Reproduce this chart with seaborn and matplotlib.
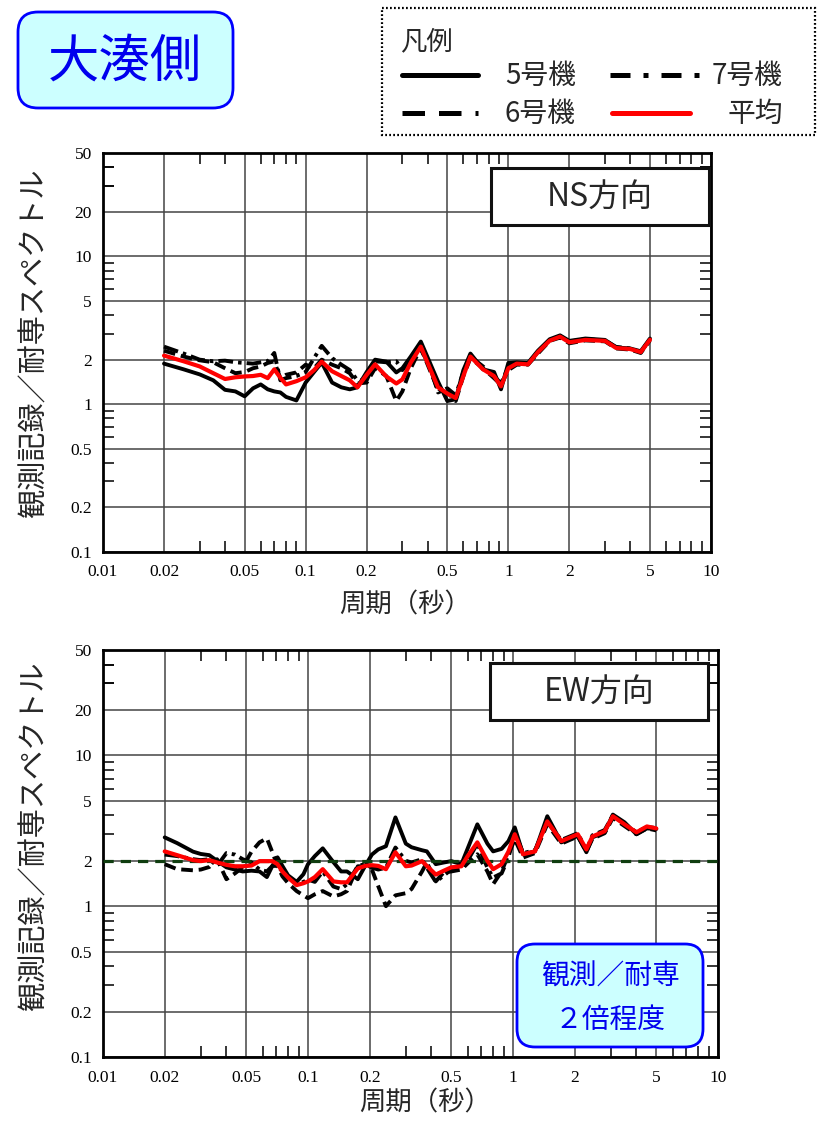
import matplotlib
matplotlib.use("Agg")
import matplotlib.pyplot as plt
import numpy as np
import pandas as pd
import seaborn as sns
from matplotlib.patches import FancyBboxPatch, Rectangle
from matplotlib.lines import Line2D
from matplotlib.ticker import FixedLocator, NullFormatter

sns.set_theme(style="white")
plt.rcParams['font.family'] = ['Noto Sans CJK JP', 'DejaVu Sans']

# ---------------- data ----------------
units = ['5号機', '6号機', '7号機']
avg_name = '平均'

x_ticks = [0.01, 0.02, 0.05, 0.1, 0.2, 0.5, 1, 2, 5, 10]
x_tick_labels = ['0.01', '0.02', '0.05', '0.1', '0.2', '0.5', '1', '2', '5', '10']
y_ticks = [0.1, 0.2, 0.5, 1, 2, 5, 10, 20, 50]
y_tick_labels = ['0.1', '0.2', '0.5', '1', '2', '5', '10', '20', '50']

# NS direction
ns_period = [0.02, 0.025, 0.03, 0.035, 0.04, 0.045, 0.05, 0.055, 0.06, 0.065,
             0.07, 0.075, 0.08, 0.09, 0.1, 0.11, 0.12, 0.135, 0.15, 0.165,
             0.18, 0.2, 0.22, 0.25, 0.28, 0.3, 0.33, 0.37, 0.41, 0.45,
             0.5, 0.55, 0.6, 0.65, 0.75, 0.85, 0.92, 1.0, 1.1, 1.25,
             1.4, 1.6, 1.8, 2.0, 2.4, 3.0, 3.4, 4.0, 4.5, 5.0]
ns_u5 = [1.88, 1.72, 1.59, 1.45, 1.25, 1.22, 1.13, 1.28, 1.36, 1.26,
         1.22, 1.20, 1.12, 1.06, 1.40, 1.65, 1.91, 1.40, 1.30, 1.26,
         1.30, 1.65, 2.00, 1.94, 1.64, 1.75, 2.10, 2.65, 1.91, 1.42,
         1.05, 1.08, 1.70, 2.20, 1.72, 1.65, 1.26, 1.90, 1.92, 1.90,
         2.30, 2.75, 2.92, 2.68, 2.78, 2.72, 2.42, 2.38, 2.28, 2.78]
ns_u6 = [2.30, 2.10, 1.98, 1.92, 1.75, 1.62, 1.65, 1.75, 1.80, 1.90,
         1.95, 1.50, 1.58, 1.64, 1.85, 1.75, 2.00, 1.85, 1.75, 1.62,
         1.38, 1.40, 1.75, 1.55, 1.05, 1.22, 1.75, 2.40, 1.70, 1.25,
         1.20, 1.05, 1.55, 2.05, 1.75, 1.50, 1.35, 1.70, 1.85, 1.85,
         2.20, 2.68, 2.82, 2.58, 2.70, 2.66, 2.38, 2.34, 2.22, 2.70]
ns_u7 = [2.45, 2.20, 2.00, 1.95, 1.97, 1.92, 1.90, 1.88, 1.92, 1.95,
         2.22, 1.45, 1.50, 1.55, 1.65, 2.05, 2.48, 2.05, 1.85, 1.70,
         1.45, 1.45, 1.95, 1.92, 1.95, 1.70, 2.00, 2.35, 1.80, 1.20,
         1.28, 1.15, 1.65, 2.10, 1.80, 1.55, 1.38, 1.78, 1.90, 1.88,
         2.25, 2.72, 2.88, 2.65, 2.75, 2.70, 2.44, 2.38, 2.24, 2.75]
ns_avg = [2.13, 1.95, 1.80, 1.62, 1.48, 1.52, 1.54, 1.55, 1.58, 1.50,
          1.72, 1.51, 1.36, 1.43, 1.52, 1.70, 1.94, 1.67, 1.55, 1.45,
          1.30, 1.58, 1.86, 1.54, 1.38, 1.47, 1.91, 2.45, 1.75, 1.30,
          1.18, 1.10, 1.55, 2.10, 1.72, 1.55, 1.32, 1.75, 1.88, 1.86,
          2.25, 2.69, 2.86, 2.62, 2.72, 2.68, 2.40, 2.36, 2.25, 2.73]

# EW direction
ew_period = [0.02, 0.023, 0.0275, 0.03, 0.033, 0.036, 0.04, 0.044, 0.048, 0.053,
             0.058, 0.063, 0.067, 0.071, 0.075, 0.08, 0.088, 0.095, 0.1, 0.108,
             0.118, 0.133, 0.145, 0.155, 0.175, 0.19, 0.205, 0.22, 0.24, 0.267,
             0.3, 0.32, 0.36, 0.38, 0.42, 0.46, 0.5, 0.56, 0.6, 0.67,
             0.75, 0.8, 0.88, 0.95, 1.02, 1.12, 1.28, 1.47, 1.72, 2.07,
             2.28, 2.44, 2.8, 3.07, 3.5, 4.0, 4.5, 5.0]
ew_u5 = [2.86, 2.62, 2.30, 2.22, 2.18, 2.00, 1.81, 1.75, 1.70, 1.72,
         1.70, 1.56, 1.85, 2.11, 1.85, 1.60, 1.45, 1.63, 1.90, 2.15,
         2.42, 1.96, 1.70, 1.70, 1.51, 1.85, 2.20, 2.38, 2.50, 3.88,
         2.60, 2.46, 2.35, 2.31, 1.90, 1.95, 1.99, 1.90, 2.40, 3.49,
         2.60, 2.31, 2.40, 2.70, 3.33, 2.21, 2.31, 3.95, 2.65, 2.92,
         2.28, 2.86, 3.09, 4.05, 3.60, 3.00, 3.28, 3.25]
ew_u6 = [1.90, 1.76, 1.73, 1.75, 1.82, 2.05, 1.51, 1.65, 1.81, 2.30,
         2.65, 2.82, 2.28, 1.85, 1.58, 1.42, 1.26, 1.18, 1.13, 1.20,
         1.26, 1.16, 1.20, 1.26, 1.84, 1.84, 1.75, 1.36, 1.00, 1.18,
         1.22, 1.30, 1.70, 1.95, 1.46, 1.68, 1.70, 1.75, 1.92, 2.21,
         1.70, 1.40, 1.70, 2.20, 2.78, 2.10, 2.25, 3.50, 2.60, 2.90,
         2.30, 2.80, 3.05, 3.85, 3.40, 3.00, 3.28, 3.18]
ew_u7 = [2.20, 2.15, 2.05, 2.02, 2.05, 1.85, 2.25, 2.20, 2.05, 1.95,
         1.75, 1.70, 1.85, 1.85, 1.70, 1.55, 1.40, 1.45, 1.50, 1.45,
         1.70, 1.35, 1.30, 1.40, 1.85, 1.90, 1.80, 1.75, 1.80, 2.45,
         2.00, 1.95, 2.05, 1.80, 1.45, 1.60, 1.75, 1.80, 2.00, 2.60,
         1.80, 1.55, 1.65, 2.10, 3.10, 2.25, 2.35, 3.60, 2.75, 3.05,
         2.35, 2.95, 3.20, 4.00, 3.50, 3.10, 3.35, 3.30]
ew_avg = [2.31, 2.18, 2.02, 1.99, 2.02, 1.95, 1.88, 1.84, 1.84, 1.86,
          1.99, 1.99, 1.99, 1.90, 1.70, 1.55, 1.38, 1.42, 1.46, 1.56,
          1.76, 1.46, 1.44, 1.44, 1.78, 1.85, 1.87, 1.85, 1.76, 2.28,
          1.84, 1.86, 1.99, 1.85, 1.62, 1.72, 1.81, 1.84, 2.14, 2.65,
          2.00, 1.76, 1.90, 2.30, 3.00, 2.21, 2.31, 3.65, 2.70, 3.00,
          2.38, 2.90, 3.14, 3.95, 3.49, 3.09, 3.38, 3.28]

ew_reference_level = 2.0

# ---------------- styling ----------------
unit_dashes = {'5号機': '', '6号機': (3.0, 1.5), '7号機': (3.8, 1.3, 0.9, 1.3)}
unit_palette = {u: 'black' for u in units}
unit_sizes = {u: 2.8 for u in units}
avg_color = '#ff0000'
jp_font = ['Noto Sans CJK JP', 'DejaVu Sans']
num_font = 'Liberation Serif'

W, H = 826, 1123
fig = plt.figure(figsize=(W / 100, H / 100), dpi=100)


def px_rect(left, top, right, bottom):
    return [left / W, 1 - bottom / H, (right - left) / W, (bottom - top) / H]


def draw_panel(ax, period, u5, u6, u7, avg, ref_level=None):
    df = pd.DataFrame({
        'period': np.tile(period, 3),
        'ratio': np.concatenate([u5, u6, u7]),
        'unit': np.repeat(units, len(period)),
    })
    sns.lineplot(data=df, x='period', y='ratio', hue='unit', style='unit', size='unit',
                 hue_order=units, style_order=units, size_order=units,
                 palette=unit_palette, dashes=unit_dashes, sizes=unit_sizes,
                 estimator=None, sort=False, legend=False, ax=ax, zorder=3)
    if ref_level is not None:
        ax.axhline(ref_level, xmin=0, xmax=1.007, color='#0f3d0f', lw=2.3,
                   dashes=(3.2, 2.2), clip_on=False, zorder=4)
    sns.lineplot(x=period, y=avg, color=avg_color, linewidth=3.0,
                 estimator=None, sort=False, ax=ax, zorder=5)

    ax.set_xscale('log')
    ax.set_yscale('log')
    ax.set_xlim(0.01, 10)
    ax.set_ylim(0.1, 50)

    ax.xaxis.set_major_locator(FixedLocator(x_ticks))
    ax.yaxis.set_major_locator(FixedLocator(y_ticks))
    x_minor = [m * d for d in (0.01, 0.1, 1) for m in (3, 4, 6, 7, 8, 9)]
    y_minor = [m * d for d in (0.1, 1, 10) for m in (3, 4, 6, 7, 8, 9)] + [30, 40]
    ax.xaxis.set_minor_locator(FixedLocator(x_minor))
    ax.yaxis.set_minor_locator(FixedLocator(y_minor))
    ax.xaxis.set_minor_formatter(NullFormatter())
    ax.yaxis.set_minor_formatter(NullFormatter())
    ax.set_xticklabels(x_tick_labels, fontfamily=num_font, fontsize=12.5)
    ax.set_yticklabels(y_tick_labels, fontfamily=num_font, fontsize=12.5)

    ax.tick_params(which='major', length=0, pad=9, colors='black')
    ax.tick_params(which='minor', direction='in', length=8, width=1.1, color='black',
                   bottom=True, top=True, left=True, right=True)
    ax.tick_params(axis='y', which='major', pad=8)

    ax.grid(True, which='major', color='#444444', lw=1.1)
    ax.grid(False, which='minor')
    for sp in ax.spines.values():
        sp.set_color('black')
        sp.set_linewidth(2.0)
        sp.set_visible(True)
    ax.set_facecolor('white')


# NS panel
ax_ns = fig.add_axes(px_rect(103, 153, 711, 552))
draw_panel(ax_ns, ns_period, ns_u5, ns_u6, ns_u7, ns_avg)
ax_ns.set_xlabel('周期（秒）', fontsize=19, family=jp_font)
ax_ns.set_ylabel('観測記録／耐専スペクトル', fontsize=21, family=jp_font)
ax_ns.xaxis.set_label_coords((405 - 103) / 608, (552 - 605) / 399)
ax_ns.xaxis.label.set_verticalalignment('center')
ax_ns.yaxis.set_label_coords((35 - 103) / 608, 1 - (343 - 153) / 399)
ax_ns.yaxis.label.set_verticalalignment('center')

# EW panel
ax_ew = fig.add_axes(px_rect(103, 650, 718, 1057))
draw_panel(ax_ew, ew_period, ew_u5, ew_u6, ew_u7, ew_avg, ref_level=ew_reference_level)
ax_ew.set_xlabel('周期（秒）', fontsize=19, family=jp_font)
ax_ew.set_ylabel('観測記録／耐専スペクトル', fontsize=21, family=jp_font)
ax_ew.xaxis.set_label_coords((425 - 103) / 615, (1057 - 1103) / 407)
ax_ew.xaxis.label.set_verticalalignment('center')
ax_ew.yaxis.set_label_coords((35 - 103) / 615, 1 - (836 - 650) / 407)
ax_ew.yaxis.label.set_verticalalignment('center')

# ---------------- overlay: title, legend, annotations (pixel coordinates) ----------------
ov = fig.add_axes([0, 0, 1, 1], zorder=10)
ov.set_xlim(0, W)
ov.set_ylim(H, 0)
ov.axis('off')
ov.patch.set_alpha(0)

# site title
ov.add_patch(FancyBboxPatch((18, 12), 215, 96, boxstyle='round,pad=0,rounding_size=20',
                            facecolor='#ccffff', edgecolor='#0000ff', lw=2.0))
ov.text(125, 62, '大湊側', color='#0000ee', fontsize=37, ha='center', va='center',
        family=jp_font)

# legend
ov.add_patch(Rectangle((382, 8), 433, 127, facecolor='white', edgecolor='black',
                       lw=1.6, ls=(0, (0.8, 1.0))))
ov.text(400, 42, '凡例', fontsize=19, ha='left', va='center', family=jp_font)
legend_rows = [
    ('5号機', 402, 478, 75, 505, 'black', '-'),
    ('7号機', 610, 702, 75, 712, 'black', (0, (4.0, 2.6, 1.0, 2.6))),
    ('6号機', 402, 478, 113, 505, 'black', (0, (4.5, 2.8))),
    ('平均', 612, 690, 113, 728, avg_color, '-'),
]
for label, x0, x1, yy, tx, col, ls in legend_rows:
    ov.add_line(Line2D([x0, x1], [yy, yy], color=col, lw=3.6, ls=ls))
    ov.text(tx, yy + 1, label, fontsize=20, ha='left', va='center', family=jp_font)

# direction labels
for (bx, by), name in (((491, 168), 'NS方向'), ((490, 663), 'EW方向')):
    ov.add_patch(Rectangle((bx, by), 218, 57, facecolor='white', edgecolor='#111111', lw=2.2))
    ov.text(bx + 109, by + 29, name, fontsize=23, ha='center', va='center', family=jp_font)

# ratio note
ov.add_patch(FancyBboxPatch((517, 944), 186, 103, boxstyle='round,pad=0,rounding_size=18',
                            facecolor='#ccffff', edgecolor='#0000ff', lw=2.0))
ov.text(610, 977, '観測／耐専', color='#0000ee', fontsize=20, ha='center', va='center',
        family=jp_font)
ov.text(610, 1020, '２倍程度', color='#0000ee', fontsize=20, ha='center', va='center',
        family=jp_font)

fig.savefig('out.png', dpi=100, facecolor='white')
